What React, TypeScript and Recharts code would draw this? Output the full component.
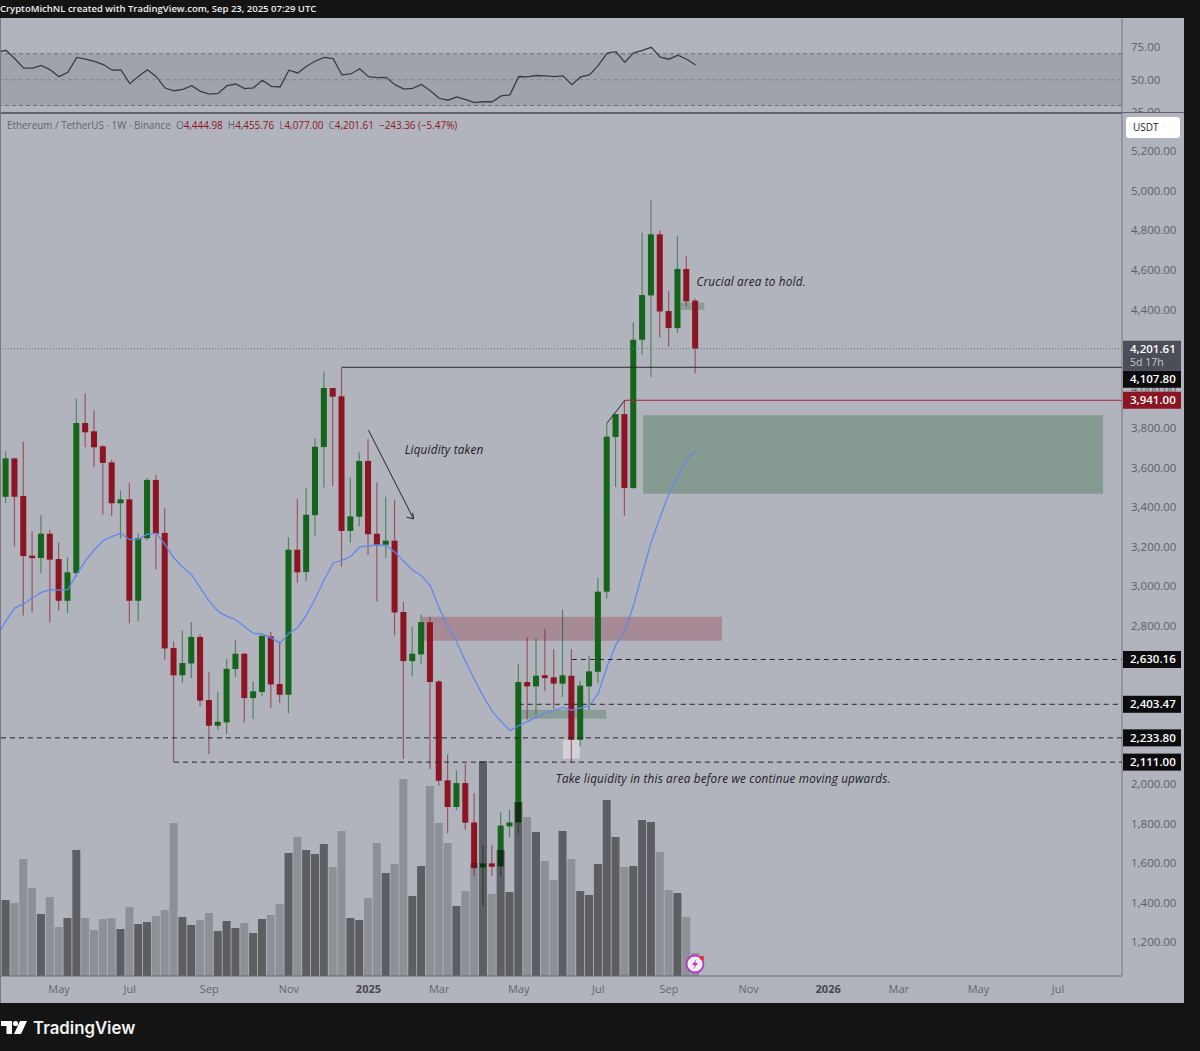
import React from "react";
import { Bar, Cell, ComposedChart, Line, ReferenceArea, ReferenceDot, ReferenceLine, XAxis, YAxis } from "recharts";

// weekly ETH/USDT candles
const opens = [3453, 3647, 3457, 3155, 3143, 3266, 3138, 2927, 3067, 3826, 3784, 3708, 3627, 3420, 3440, 2927, 3243, 3538, 3270, 2688, 2550, 2610, 2744, 2425, 2295, 2312, 2582, 2659, 2435, 2466, 2747, 2506, 2452, 3185, 3072, 3360, 3704, 4003, 3961, 3280, 3352, 3634, 3266, 3210, 3231, 2870, 2622, 2656, 2819, 2519, 2019, 1884, 2005, 1806, 1579, 1599, 1584, 1786, 1806, 2516, 2494, 2550, 2540, 2508, 2548, 2224, 2494, 2568, 2973, 3755, 3871, 3497, 4247, 4471, 4780, 4392, 4306, 4605, 4444.98];
const highs = [3683, 3650, 3733, 3278, 3359, 3286, 3222, 3147, 3949, 3978, 3890, 3713, 3640, 3485, 3524, 3270, 3546, 3563, 3398, 2722, 2777, 2819, 2759, 2567, 2464, 2632, 2727, 2663, 2519, 2750, 2769, 2722, 3248, 3443, 3497, 3748, 4087, 4003, 4107.8, 3549, 3677, 3745, 3526, 3453, 3438, 2921, 2796, 2856, 2845, 2525, 2149, 2069, 2103, 1955, 1688, 1693, 1859, 1870, 2607, 2742, 2739, 2786, 2683, 2882, 2683, 2523, 2649, 3044, 3826, 3871, 3941, 4335, 4788, 4955, 4800, 4492, 4770, 4669, 4455.76];
const lows = [3421, 3202, 2852, 2868, 3067, 2818, 2878, 2865, 3050, 3703, 3602, 3362, 3354, 3243, 2813, 2826, 3232, 3087, 2629, 2111, 2511, 2536, 2393, 2152, 2275, 2253, 2541, 2312, 2329, 2444, 2385, 2410, 2359, 3017, 3028, 3253, 3500, 3507, 3101, 3221, 3303, 3160, 2924, 3143, 2752, 2127, 2545, 2605, 2076, 1992, 1752, 1870, 1769, 1537, 1385, 1537, 1537, 1732, 1752, 2326, 2351, 2469, 2380, 2440, 2111, 2191, 2373, 2511, 2937, 3502, 3357, 3494, 4171, 4058, 4259, 4213, 4281, 4416, 4077];
const closes = [3647, 3453, 3153, 3143, 3266, 3135, 2927, 3071, 3826, 3779, 3703, 3624, 3420, 3440, 2927, 3244, 3538, 3266, 2686, 2550, 2612, 2744, 2422, 2295, 2315, 2583, 2659, 2435, 2469, 2750, 2504, 2452, 3185, 3071, 3362, 3706, 4003, 3959, 3280, 3354, 3634, 3264, 3210, 3231, 2868, 2622, 2659, 2819, 2516, 2017, 1884, 2005, 1805, 1575, 1599, 1582, 1790, 1806, 2516, 2494, 2548, 2536, 2508, 2550, 2224, 2498, 2570, 2973, 3757, 3871, 3497, 4247, 4473, 4780, 4390, 4306, 4605, 4441, 4201.61];
// relative volume, the pane has no scale of its own
const volumes = [760, 730, 1170, 880, 620, 790, 490, 580, 1260, 580, 460, 570, 580, 470, 690, 520, 540, 600, 660, 1530, 590, 510, 560, 630, 450, 550, 480, 530, 430, 570, 610, 720, 1230, 1390, 1260, 1220, 1320, 1090, 1450, 580, 560, 780, 1330, 1030, 1120, 1970, 800, 1100, 1900, 1530, 1330, 700, 850, 1130, 2150, 820, 1260, 840, 1740, 1590, 1440, 1150, 960, 1450, 1170, 850, 810, 1120, 1760, 1390, 1090, 1100, 1560, 1540, 1240, 860, 830, 590, 230];
// first entry of ma/rsi is the week before the left edge
const ma = [2747, 2828, 2890, 2912, 2941, 2970, 2983, 2981, 2983, 3062, 3130, 3185, 3232, 3253, 3268, 3236, 3239, 3264, 3268, 3211, 3143, 3096, 3059, 2991, 2924, 2873, 2848, 2831, 2794, 2762, 2759, 2739, 2713, 2762, 2792, 2856, 2941, 3033, 3118, 3131, 3151, 3199, 3205, 3209, 3207, 3173, 3126, 3081, 3054, 3003, 2890, 2797, 2716, 2620, 2528, 2443, 2368, 2317, 2270, 2295, 2317, 2339, 2359, 2371, 2388, 2373, 2385, 2396, 2460, 2595, 2705, 2777, 2907, 3069, 3227, 3350, 3470, 3556, 3640, 3686];
const rsi = [71, 72.7, 66.2, 58.9, 58.9, 61, 57.6, 52.3, 55.7, 67.2, 65.9, 64.1, 61.7, 57.3, 57.6, 46.9, 52.6, 57.6, 52.3, 43.5, 41.4, 42.4, 45.3, 40.9, 38.8, 39.3, 45.3, 46.6, 43, 43.7, 49.5, 44.8, 44.3, 57.3, 55.2, 60.4, 64.4, 67.2, 66.2, 53.7, 54.4, 58.4, 52.3, 51.6, 51.8, 46.1, 42.7, 43.2, 46.3, 41.4, 35.6, 34.1, 36.7, 34.6, 32.2, 32.9, 32.9, 37.4, 38.2, 52.4, 52.1, 53.2, 52.9, 52.4, 52.9, 46.1, 52.1, 53.7, 61, 70.5, 71.6, 63.4, 70.8, 72.6, 75, 67.4, 65.8, 68.9, 65.8, 61.3];

// 2200, 2400, 2600 and 4200 sit behind the price tags in the picture
const priceTicks = [1200, 1400, 1600, 1800, 2000, 2800, 3000, 3200, 3400, 3600, 3800, 4000, 4400, 4600, 4800, 5000, 5200];
const rsiTicks = [25, 50, 75];
const timeTicks = [6, 14, 23, 32, 41, 49, 58, 67, 75, 84, 93, 101, 110, 119];
const timeLabels = ["May", "Jul", "Sep", "Nov", "2025", "Mar", "May", "Jul", "Sep", "Nov", "2026", "Mar", "May", "Jul"];

const rows: any[] = [{ week: -1, ma: ma[0], rsi: rsi[0] }];
opens.forEach((o, i) => {
  rows.push({ week: i, open: o, high: highs[i], low: lows[i], close: closes[i], volume: volumes[i], ma: ma[i + 1], rsi: rsi[i + 1] });
});

const BG = "#b1b4bd";
const UP = "#14641c";
const DOWN = "#8c1423";
const FONT = "'Open Sans', 'Noto Sans', sans-serif";
const xDomain: [number, number] = [-0.68, 126.24];
const yDomain: [number, number] = [1029.5, 5393.6];
const xEnd = 126.24;

const Candle = (props: any) => {
  const { x, y, width, height, payload } = props;
  if (payload.open == null) return null;
  const perUnit = height / (payload.high - payload.low);
  const yOf = (v: number) => y + (payload.high - v) * perUnit;
  const top = yOf(Math.max(payload.open, payload.close));
  const bottom = yOf(Math.min(payload.open, payload.close));
  const color = payload.close >= payload.open ? UP : DOWN;
  const cx = x + width / 2;
  return (
    <g>
      <line x1={cx} x2={cx} y1={y} y2={y + height} stroke={color} strokeOpacity={0.6} strokeWidth={1.2} />
      <rect x={x} y={top} width={width} height={Math.max(bottom - top, 2)} fill={color} />
    </g>
  );
};

const PriceTag = (props: any) => {
  const { viewBox, text, sub, fill, dy = 0 } = props;
  const cy = viewBox.y + dy;
  if (sub) {
    return (
      <g fontFamily={FONT}>
        <rect x={1123} y={cy - 8} width={58} height={30} fill={fill} />
        <text x={1130} y={cy + 4} fill="#fff" fontSize={11.5} fontWeight={600}>{text}</text>
        <text x={1130} y={cy + 17} fill="#c4c5cc" fontSize={10.5}>{sub}</text>
      </g>
    );
  }
  return (
    <g fontFamily={FONT}>
      <rect x={1123} y={cy - 8.5} width={58} height={17} fill={fill} />
      <text x={1130} y={cy + 4} fill="#fff" fontSize={11.5} fontWeight={600}>{text}</text>
    </g>
  );
};

const Note = (props: any) => {
  const { viewBox, text } = props;
  return (
    <text x={viewBox.x} y={viewBox.y + 4} fill="#1f2024" fontSize={11.7} fontStyle="italic" fontWeight={500} fontFamily={FONT} letterSpacing={0.2}>
      {text}
    </text>
  );
};

const TimeTick = (props: any) => {
  const { x, y, payload } = props;
  const label = timeLabels[timeTicks.indexOf(payload.value)];
  const strong = label.length === 4;
  return (
    <text x={x} y={y + 9} textAnchor="middle" fontSize={11} fontFamily={FONT} fontWeight={strong ? 700 : 400} fill={strong ? "#47484e" : "#64666d"}>
      {label}
    </text>
  );
};

const formatPrice = (v: number) => v.toLocaleString("en-US", { minimumFractionDigits: 2 });

function RsiPane() {
  return (
    <div style={{ position: "absolute", left: 0, top: 0, width: 1200, height: 113, overflow: "hidden" }}>
      <ComposedChart width={1200} height={125} data={rows} margin={{ top: 19, right: 0, bottom: 12, left: 0 }}>
        <XAxis dataKey="week" type="number" domain={xDomain} allowDataOverflow hide />
        <YAxis
          orientation="right"
          width={78}
          domain={[24.2, 96.9]}
          ticks={rsiTicks}
          interval={0}
          tickFormatter={(v) => v.toFixed(2)}
          tick={{ fill: "#5d5f66", fontSize: 11.5, fontFamily: FONT }}
          tickLine={false}
          tickMargin={3}
          stroke="#74767e"
        />
        <ReferenceArea y1={30} y2={70} fill="#6d6f76" fillOpacity={0.25} stroke="none" />
        <ReferenceLine y={70} stroke="#6d6f76" strokeDasharray="4 3" />
        <ReferenceLine y={50} stroke="#85878e" strokeDasharray="4 3" />
        <ReferenceLine y={30} stroke="#6d6f76" strokeDasharray="4 3" />
        <Line dataKey="rsi" stroke="#3a3c42" strokeWidth={1.3} dot={false} isAnimationActive={false} />
      </ComposedChart>
    </div>
  );
}

function PricePane() {
  return (
    <div style={{ position: "absolute", left: 0, top: 0, width: 1200, height: 1051 }}>
      <ComposedChart width={1200} height={1051} data={rows} margin={{ top: 113, right: 0, bottom: 0, left: 0 }}>
        <XAxis
          xAxisId="candles"
          dataKey="week"
          type="number"
          domain={xDomain}
          allowDataOverflow
          ticks={timeTicks}
          interval={0}
          height={75}
          tick={<TimeTick />}
          tickLine={false}
          stroke="#6b6d75"
        />
        <XAxis xAxisId="vol" dataKey="week" type="number" domain={xDomain} allowDataOverflow hide />
        <YAxis
          yAxisId="price"
          orientation="right"
          width={78}
          domain={yDomain}
          ticks={priceTicks}
          interval={0}
          tickFormatter={formatPrice}
          tick={{ fill: "#5d5f66", fontSize: 11.5, fontFamily: FONT }}
          tickLine={false}
          tickMargin={3}
          stroke="#74767e"
        />
        <YAxis yAxisId="volume" domain={[0, 8630]} hide />

        <ReferenceArea xAxisId="candles" yAxisId="price" x1={47.06} x2={81} y1={2725} y2={2846} fill="#8c1e32" fillOpacity={0.28} stroke="none" />
        <ReferenceArea xAxisId="candles" yAxisId="price" x1={72.06} x2={124.1} y1={3468} y2={3865} fill="#2f6b3a" fillOpacity={0.33} stroke="none" />
        <ReferenceArea xAxisId="candles" yAxisId="price" x1={76.3} x2={79} y1={4398} y2={4434} fill="#2f6b3a" fillOpacity={0.3} stroke="none" />
        <ReferenceArea xAxisId="candles" yAxisId="price" x1={58.3} x2={67.9} y1={2330} y2={2376} fill="#2f6b3a" fillOpacity={0.3} stroke="none" />
        <ReferenceArea xAxisId="candles" yAxisId="price" x1={63} x2={64.9} y1={2128} y2={2224} fill="#ffffff" fillOpacity={0.4} stroke="none" />

        <Bar xAxisId="candles" yAxisId="price" dataKey={(d: any) => (d.open == null ? null : [d.low, d.high])} barSize={6} shape={<Candle />} isAnimationActive={false} />
        <Line xAxisId="candles" yAxisId="price" dataKey="ma" stroke="#6088ec" strokeWidth={1.3} dot={false} isAnimationActive={false} />
        <Bar xAxisId="vol" yAxisId="volume" dataKey="volume" barSize={8} isAnimationActive={false}>
          {rows.map((r) => (
            <Cell key={r.week} fill="#000" fillOpacity={r.close >= r.open ? 0.48 : 0.2} />
          ))}
        </Bar>

        <ReferenceLine xAxisId="candles" yAxisId="price" y={4201.61} stroke="#6f7178" strokeDasharray="1 2" />
        <ReferenceLine xAxisId="candles" yAxisId="price" y={2233.8} stroke="#26272c" strokeDasharray="5 4" />
        <ReferenceLine xAxisId="candles" yAxisId="price" segment={[{ x: 38, y: 4107.8 }, { x: xEnd, y: 4107.8 }]} stroke="#26272c" />
        <ReferenceLine xAxisId="candles" yAxisId="price" segment={[{ x: 70, y: 3941 }, { x: xEnd, y: 3941 }]} stroke="#a3243a" />
        <ReferenceLine xAxisId="candles" yAxisId="price" segment={[{ x: 64, y: 2630.16 }, { x: xEnd, y: 2630.16 }]} stroke="#26272c" strokeDasharray="5 4" />
        <ReferenceLine xAxisId="candles" yAxisId="price" segment={[{ x: 58, y: 2403.47 }, { x: xEnd, y: 2403.47 }]} stroke="#26272c" strokeDasharray="5 4" />
        <ReferenceLine xAxisId="candles" yAxisId="price" segment={[{ x: 19, y: 2111 }, { x: xEnd, y: 2111 }]} stroke="#26272c" strokeDasharray="5 4" />
        <ReferenceLine xAxisId="candles" yAxisId="price" segment={[{ x: 68, y: 3826 }, { x: 70, y: 3941 }]} stroke="#26272c" />

        {/* arrow under the "liquidity taken" note */}
        <ReferenceLine xAxisId="candles" yAxisId="price" segment={[{ x: 41, y: 3790 }, { x: 46.1, y: 3341 }]} stroke="#26272c" />
        <ReferenceLine xAxisId="candles" yAxisId="price" segment={[{ x: 46.1, y: 3341 }, { x: 45.3, y: 3350 }]} stroke="#26272c" />
        <ReferenceLine xAxisId="candles" yAxisId="price" segment={[{ x: 46.1, y: 3341 }, { x: 46.0, y: 3372 }]} stroke="#26272c" />

        <ReferenceDot xAxisId="candles" yAxisId="price" x={45.1} y={3691} r={0} fill="none" stroke="none" label={<Note text="Liquidity taken" />} />
        <ReferenceDot xAxisId="candles" yAxisId="price" x={78.1} y={4537} r={0} fill="none" stroke="none" label={<Note text="Crucial area to hold." />} />
        <ReferenceDot xAxisId="candles" yAxisId="price" x={62.2} y={2026} r={0} fill="none" stroke="none" label={<Note text="Take liquidity in this area before we continue moving upwards." />} />
      </ComposedChart>
    </div>
  );
}

// last-value tags have to sit above the axis tick labels, so they get their own layer
function TagPane() {
  return (
    <div style={{ position: "absolute", left: 0, top: 0, width: 1200, height: 1051, pointerEvents: "none" }}>
      <ComposedChart width={1200} height={1051} data={rows} margin={{ top: 113, right: 78, bottom: 75, left: 0 }}>
        <XAxis dataKey="week" type="number" domain={xDomain} allowDataOverflow hide />
        <YAxis domain={yDomain} hide />
        <Line dataKey="ma" stroke="none" dot={false} isAnimationActive={false} />
        <ReferenceLine y={4201.61} stroke="none" label={<PriceTag text="4,201.61" sub="5d 17h" fill="#4b4d57" />} />
        <ReferenceLine y={4107.8} stroke="none" label={<PriceTag text="4,107.80" fill="#0c0c0e" dy={12} />} />
        <ReferenceLine y={3941} stroke="none" label={<PriceTag text="3,941.00" fill="#8c1423" />} />
        <ReferenceLine y={2630.16} stroke="none" label={<PriceTag text="2,630.16" fill="#0c0c0e" />} />
        <ReferenceLine y={2403.47} stroke="none" label={<PriceTag text="2,403.47" fill="#0c0c0e" />} />
        <ReferenceLine y={2233.8} stroke="none" label={<PriceTag text="2,233.80" fill="#0c0c0e" />} />
        <ReferenceLine y={2111} stroke="none" label={<PriceTag text="2,111.00" fill="#0c0c0e" />} />
      </ComposedChart>
    </div>
  );
}

export default function App() {
  return (
    <div style={{ position: "absolute", left: 0, top: 0, width: 1200, height: 1051, background: BG, overflow: "hidden", fontFamily: FONT }}>
      <RsiPane />
      <div style={{ position: "absolute", left: 0, top: 112, width: 1122, height: 2, background: "#62646b" }} />
      <div style={{ position: "absolute", left: 1122, top: 112, width: 62, height: 1, background: "#62646b" }} />
      <PricePane />
      <TagPane />

      <div style={{ position: "absolute", left: 0, top: 0, width: 1200, height: 18, background: "#141414", color: "#f0f0f0", fontSize: 9.5, lineHeight: "17px", fontWeight: 600, whiteSpace: "nowrap" }}>
        CryptoMichNL created with TradingView.com, Sep 23, 2025 07:29 UTC
      </div>
      <div style={{ position: "absolute", left: 0, top: 18, width: 1, height: 985, background: "#777981" }} />
      <div style={{ position: "absolute", left: 7, top: 119, fontSize: 9.9, lineHeight: "13px", color: "#64666d", whiteSpace: "pre" }}>
        {"Ethereum / TetherUS · 1W · Binance  O"}
        <span style={{ color: DOWN }}>4,444.98</span>
        {"  H"}
        <span style={{ color: DOWN }}>4,455.76</span>
        {"  L"}
        <span style={{ color: DOWN }}>4,077.00</span>
        {"  C"}
        <span style={{ color: DOWN }}>4,201.61</span>
        <span style={{ color: DOWN }}>{"  −243.36 (−5.47%)"}</span>
      </div>
      <div style={{ position: "absolute", left: 1126, top: 117, width: 54, height: 21, borderRadius: 3, background: "#fff", color: "#222", fontSize: 10, lineHeight: "21px", textIndent: 7 }}>USDT</div>

      <svg style={{ position: "absolute", left: 684, top: 953 }} width={24} height={24}>
        <circle cx={11} cy={11} r={8.5} fill="#f4eef6" stroke="#b03cc4" strokeWidth={1.8} />
        <path d="M12.5 6 L8 12 L10.8 12 L9.5 16 L14 10 L11.2 10 Z" fill="#b03cc4" />
        <circle cx={18} cy={5} r={2.2} fill="#f0283c" />
      </svg>

      <div style={{ position: "absolute", left: 1184, top: 0, width: 16, height: 1051, background: "#141414" }} />
      <div style={{ position: "absolute", left: 0, top: 1003, width: 1200, height: 48, background: "#141414" }}>
        <svg style={{ position: "absolute", left: 1, top: 17 }} width={28} height={16}>
          <path d="M0 1 H11 V14 H5.5 V6 H0 Z" fill="#fff" />
          <circle cx={14.5} cy={3.5} r={2.6} fill="#fff" />
          <path d="M19 1 H26 L20 14 H13 Z" fill="#fff" />
        </svg>
        <div style={{ position: "absolute", left: 33, top: 14, color: "#f2f2f2", fontFamily: "Inter, sans-serif", fontWeight: 600, fontSize: 16.8, lineHeight: "22px" }}>TradingView</div>
      </div>
    </div>
  );
}
